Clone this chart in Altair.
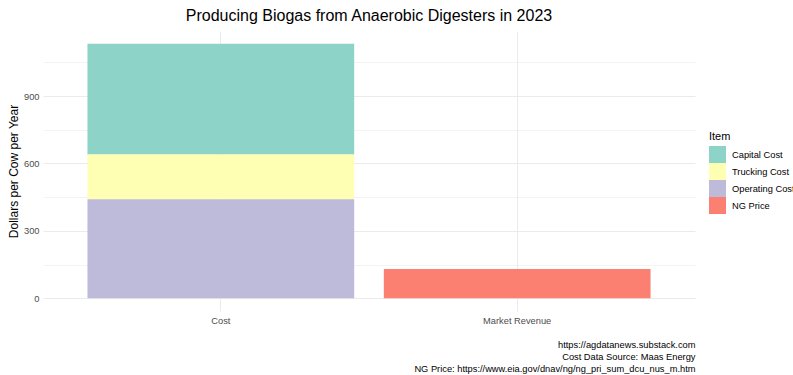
import altair as alt
import pandas as pd

# ---- data ----
categories = ["Cost", "Cost", "Cost", "Market Revenue"]
items = ["Capital Cost", "Trucking Cost", "Operating Cost", "NG Price"]
values = [493, 199, 441, 130]
stack_order = [3, 2, 1, 1]
colors = ["#8DD3C7", "#FFFFB3", "#BEBADA", "#FB8072"]
caption = [
    "https://agdatanews.substack.com",
    "Cost Data Source: Maas Energy",
    "NG Price: https://www.eia.gov/dnav/ng/ng_pri_sum_dcu_nus_m.htm",
]

df = pd.DataFrame({"Category": categories, "Item": items, "Value": values, "ord": stack_order})

top = df.groupby("Category")["Value"].sum().max()
ymin, ymax = -0.05 * top, 1.05 * top

FONT = "Liberation Sans"
SMALL = 9.3

chart = alt.Chart(df).mark_bar(strokeWidth=0).encode(
    x=alt.X(
        "Category:N",
        scale=alt.Scale(paddingInner=0.1, paddingOuter=0.15),
        axis=alt.Axis(
            title=caption,
            titleAnchor="end",
            titleAlign="right",
            titleFontSize=SMALL,
            titleFontWeight="normal",
            titleColor="#000000",
            titlePadding=15,
            titleLineHeight=12,
            labelAngle=0,
            labelFontSize=SMALL,
            labelColor="#4D4D4D",
            labelPadding=5,
            ticks=False,
            domain=False,
            grid=True,
            gridColor="#EBEBEB",
            gridWidth=1,
            bandPosition=0.5,
        ),
    ),
    y=alt.Y(
        "Value:Q",
        stack="zero",
        scale=alt.Scale(domain=[ymin, ymax], nice=False, zero=False),
        axis=alt.Axis(
            title="Dollars per Cow per Year",
            titleFontSize=12,
            titleFontWeight="normal",
            titleColor="#000000",
            titlePadding=3,
            values=[0, 150, 300, 450, 600, 750, 900, 1050],
            labelExpr="datum.value % 300 == 0 ? datum.label : ''",
            labelFontSize=SMALL,
            labelColor="#4D4D4D",
            labelPadding=4,
            ticks=False,
            domain=False,
            grid=True,
            gridColor="#EBEBEB",
            gridWidth={"condition": {"test": "datum.value % 300 == 0", "value": 1}, "value": 0.6},
        ),
    ),
    color=alt.Color(
        "Item:N",
        scale=alt.Scale(domain=items, range=colors),
        legend=alt.Legend(
            title="Item",
            orient="none",
            legendX=666,
            legendY=100,
            titleFontSize=11,
            titleFontWeight="normal",
            titleColor="#000000",
            titlePadding=4,
            labelFontSize=SMALL,
            labelColor="#000000",
            symbolType="square",
            symbolSize=289,
            symbolStrokeWidth=0,
            symbolOpacity=1,
            rowPadding=0,
            labelOffset=6,
        ),
    ),
    order=alt.Order("ord:Q", sort="ascending"),
).properties(
    width=652,
    height=280,
    title=alt.TitleParams(
        "Producing Biogas from Anaerobic Digesters in 2023",
        fontSize=16,
        fontWeight="normal",
        color="#000000",
        anchor="middle",
        offset=7,
    ),
    autosize=alt.AutoSizeParams(type="none"),
    padding={"left": 43, "top": 31, "right": 98, "bottom": 64},
).configure(font=FONT).configure_view(strokeWidth=0)

chart.save("out.html", embed_options={"renderer": "svg", "actions": False})
